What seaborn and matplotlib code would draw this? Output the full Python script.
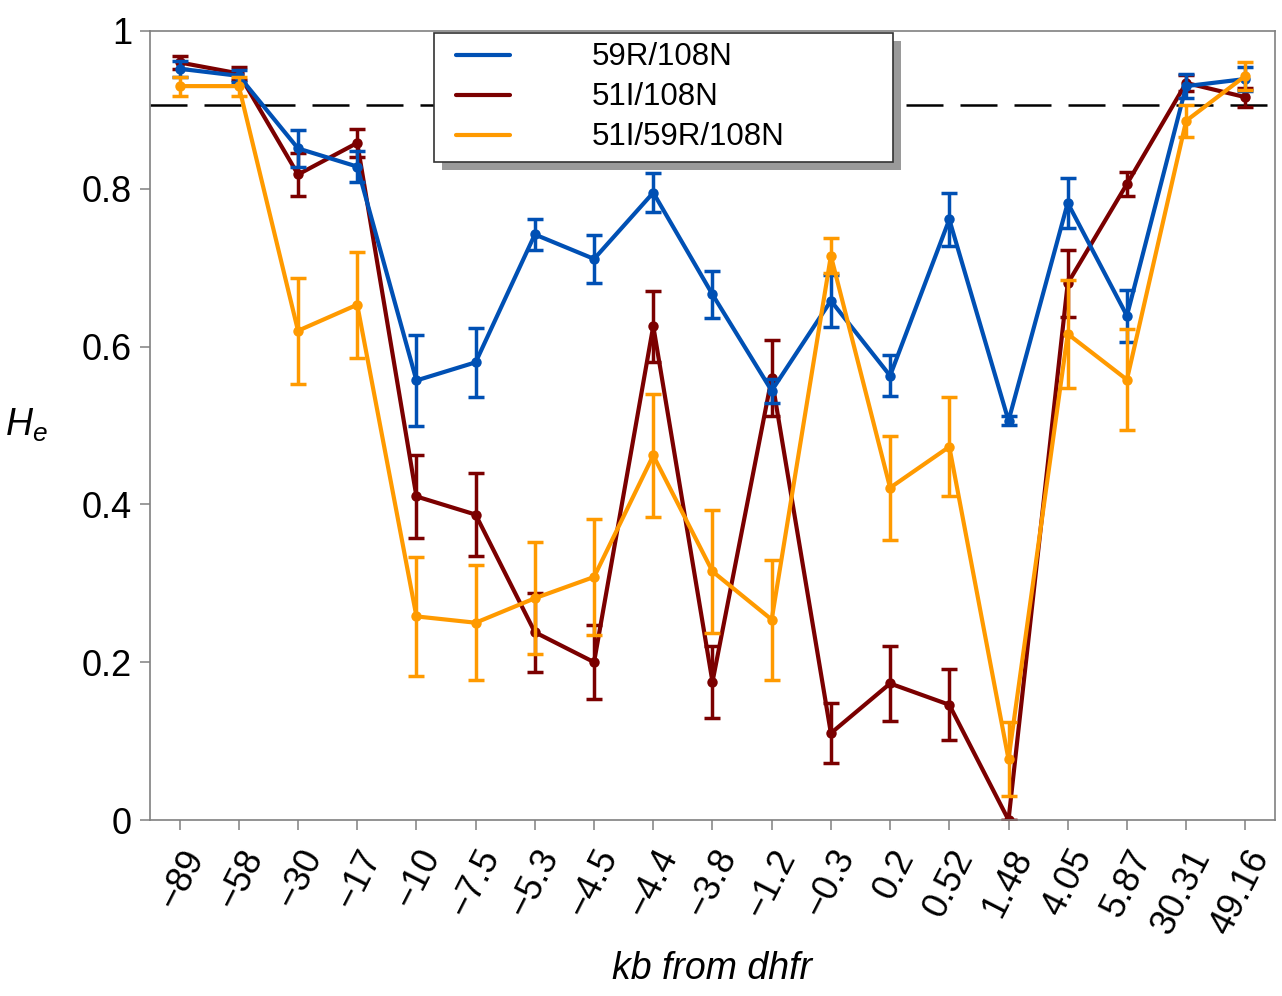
import numpy as np
import pandas as pd
import matplotlib
matplotlib.use("Agg")
import matplotlib.pyplot as plt
from matplotlib.lines import Line2D
from matplotlib.patches import Rectangle
from matplotlib.transforms import IdentityTransform
from matplotlib.legend_handler import HandlerLine2D
import seaborn as sns

# Distance from dhfr (kb), one category per marker
kb_labels = ["\u221289", "\u221258", "\u221230", "\u221217", "\u221210", "\u22127.5",
             "\u22125.3", "\u22124.5", "\u22124.4", "\u22123.8", "\u22121.2", "\u22120.3",
             "0.2", "0.52", "1.48", "4.05", "5.87", "30.31", "49.16"]

# Expected heterozygosity He and its error for each haplotype
he_59R = [0.952, 0.943, 0.851, 0.828, 0.557, 0.580, 0.742, 0.711, 0.795, 0.666,
          0.544, 0.658, 0.563, 0.761, 0.506, 0.782, 0.639, 0.930, 0.939]
err_59R = [0.010, 0.008, 0.024, 0.020, 0.058, 0.044, 0.020, 0.030, 0.025, 0.030,
           0.015, 0.033, 0.026, 0.033, 0.006, 0.032, 0.033, 0.015, 0.015]

he_51I = [0.960, 0.946, 0.818, 0.858, 0.410, 0.387, 0.238, 0.200, 0.626, 0.175,
          0.560, 0.110, 0.173, 0.146, 0.000, 0.680, 0.806, 0.934, 0.916]
err_51I = [0.008, 0.008, 0.027, 0.018, 0.053, 0.053, 0.050, 0.047, 0.045, 0.046,
           0.048, 0.038, 0.047, 0.045, 0.000, 0.042, 0.015, 0.010, 0.012]

he_51I59R = [0.930, 0.930, 0.620, 0.653, 0.258, 0.250, 0.281, 0.308, 0.462, 0.315,
             0.254, 0.715, 0.421, 0.473, 0.077, 0.616, 0.558, 0.886, 0.943]
err_51I59R = [0.012, 0.012, 0.067, 0.067, 0.075, 0.073, 0.071, 0.073, 0.078, 0.078,
              0.076, 0.022, 0.066, 0.063, 0.047, 0.068, 0.064, 0.020, 0.018]

threshold = 0.906

series_names = ["59R/108N", "51I/108N", "51I/59R/108N"]
colors = {"59R/108N": "#0050b4", "51I/108N": "#7b0000", "51I/59R/108N": "#ff9a00"}

pos = np.arange(len(kb_labels))
df = pd.concat([
    pd.DataFrame({"pos": pos, "He": he_59R, "err": err_59R, "series": "59R/108N"}),
    pd.DataFrame({"pos": pos, "He": he_51I, "err": err_51I, "series": "51I/108N"}),
    pd.DataFrame({"pos": pos, "He": he_51I59R, "err": err_51I59R, "series": "51I/59R/108N"}),
])

sns.set_style("ticks")
plt.rcParams["font.family"] = ["Liberation Sans", "DejaVu Sans"]
plt.rcParams["mathtext.fontset"] = "custom"
plt.rcParams["mathtext.it"] = "Liberation Sans:italic"
plt.rcParams["mathtext.rm"] = "Liberation Sans"
for key in ["text.color", "axes.labelcolor", "xtick.labelcolor", "ytick.labelcolor"]:
    plt.rcParams[key] = "black"

fig = plt.figure(figsize=(12.82, 9.96), dpi=100)
ax = fig.add_axes([0.117, 0.1767, 0.8775, 0.7923])

# dashed reference line
ax.axhline(threshold, color="black", lw=1.8, linestyle=(0, (14.8, 6.8)), zorder=1)

# draw order: dark red below, blue, orange on top
z = {"51I/108N": 2, "59R/108N": 4, "51I/59R/108N": 6}
for name in ["51I/108N", "59R/108N", "51I/59R/108N"]:
    sub = df[df["series"] == name]
    c = colors[name]
    ax.errorbar(sub["pos"], sub["He"], yerr=sub["err"], fmt="none", ecolor=c,
                elinewidth=2.5, capsize=5.5, capthick=2.5, zorder=z[name])
    sns.lineplot(data=sub, x="pos", y="He", color=c, linewidth=3.0, marker="o",
                 markersize=7.5, markeredgecolor=c, markeredgewidth=0,
                 legend=False, ax=ax, zorder=z[name] + 0.5)

ax.set_xlim(-0.5, len(kb_labels) - 0.5)
ax.set_ylim(0, 1)
ax.set_yticks([0, 0.2, 0.4, 0.6, 0.8, 1.0])
ax.set_yticklabels(["0", "0.2", "0.4", "0.6", "0.8", "1"])
ax.set_xticks(pos)
ax.set_xticklabels(kb_labels, rotation=63, ha="right", va="top",
                   rotation_mode="anchor")

for sp in ax.spines.values():
    sp.set_color("#808080")
    sp.set_linewidth(1.2)
ax.tick_params(axis="both", direction="out", length=7, width=1.1,
               color="#808080", labelsize=26)
ax.tick_params(axis="x", pad=10)
ax.tick_params(axis="y", pad=6)

ax.set_xlabel("kb from dhfr", fontsize=27, style="italic", labelpad=8)
ax.set_ylabel("$H_e$", fontsize=27, rotation=0, labelpad=40, va="center")

handles = [Line2D([0], [0], color=colors[n], lw=3) for n in series_names]
leg = ax.legend(handles, series_names, loc="lower left",
                bbox_to_anchor=(0.2524, 0.834, 0.408, 0.16), mode="expand",
                fontsize=22.5, frameon=True, fancybox=False, shadow=False,
                handlelength=2.14, handletextpad=2.6, labelspacing=0.32,
                borderpad=0.3, borderaxespad=0, framealpha=1,
                handler_map={Line2D: HandlerLine2D(xpad=0.4)})
leg.get_frame().set_facecolor("white")
leg.get_frame().set_edgecolor("#333333")
leg.get_frame().set_linewidth(1.2)
leg.set_zorder(20)

# offset grey shadow behind legend box
fig.canvas.draw()
bb = leg.get_window_extent()
shadow = Rectangle((bb.x0 + 8, bb.y0 - 8), bb.width, bb.height,
                   transform=IdentityTransform(), facecolor="#9a9a9a",
                   edgecolor="none", zorder=19)
ax.add_artist(shadow)

fig.savefig("out.png", dpi=100)
